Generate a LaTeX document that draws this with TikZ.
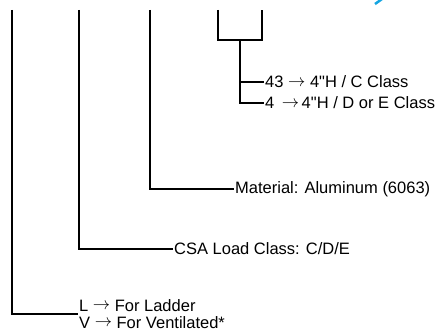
\documentclass[tikz,border=0pt]{standalone}
\usepackage{fontspec}
\setmainfont{Liberation Sans}
\usetikzlibrary{positioning}
\newcommand{\toarr}{\raisebox{1.5pt}{$\rightarrow$}}

\begin{document}
\begin{tikzpicture}[
		x=1pt,y=-1pt,
		lab/.style={font=\fontsize{16.5}{17}\selectfont,inner sep=1pt,anchor=west},
		lead/.style={draw=black,line width=1.8pt},
		cutmark/.style={draw={rgb,255:red,20;green,165;blue,225},line width=2.5pt}
		]
		\useasboundingbox (0,0) rectangle (435,334);
		
		% --- Free top ends of the code lines
		\coordinate (topL) at (12,10);
		\coordinate (topC) at (79,10);
		\coordinate (topM) at (150,10);
		\coordinate (forkA) at (218,10);
		\coordinate (forkB) at (262,10);
		\coordinate (stem) at (240,40);
		
		% --- Labels
		\node[lab] (c43) at (264,82) {43 \toarr\ 4\textquotedbl H / C Class};
		\node[lab] (c4) at (264,103) {4\hspace{3pt} \toarr\hspace{2.5pt}4\textquotedbl H / D or E Class};
		\node[lab] (mat) at (234,189) {Material: Aluminum (6063)};
		\node[lab] (csa) at (173,249) {CSA Load Class: C/D/E};
		\node[lab,align=left] (kind) at (78,314) {L \toarr\ For Ladder\\V \toarr\ For Ventilated*};
		
		% --- Lines
		\draw[lead] (forkA) |- (stem) -| (forkB);
		\draw[lead] (stem) |- (c43.west);
		\draw[lead] (stem) |- (c4.west);
		\draw[lead] (topM) |- (mat.west);
		\draw[lead] (topC) |- (csa.west);
		\draw[lead] (topL) |- (kind.west);
		
		% --- Cut-off mark at the top edge
		\draw[cutmark] (382,-1) .. controls (379,2) .. (375,4);
		
	\end{tikzpicture}
\end{document}
